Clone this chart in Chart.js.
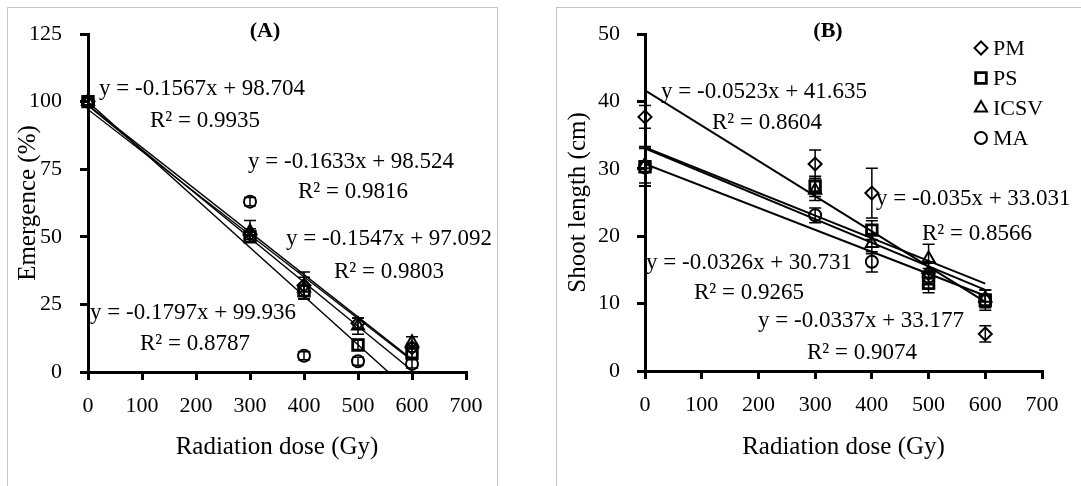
<!DOCTYPE html>
<html>
<head>
<meta charset="utf-8">
<script src="https://cdn.jsdelivr.net/npm/chart.js@4.4.1/dist/chart.umd.min.js"></script>
<style>
body{margin:0;background:#fff;}
#wrap{position:relative;width:1081px;height:486px;overflow:hidden;background:#fff;font-family:'Liberation Serif','DejaVu Serif',serif;color:#000;}
.box{position:absolute;border:1px solid #c4c4c4;}
canvas{position:absolute;top:0;}
.lb{position:absolute;white-space:nowrap;line-height:1;font-size:23px;transform:translateY(-50%);}
.ttl{position:absolute;font-weight:bold;font-size:22px;line-height:1;transform:translate(-50%,-50%);}
</style>
</head>
<body>
<div id="wrap">
  <div class="box" style="left:7px;top:7px;width:489px;height:520px"></div>
  <div class="box" style="left:556px;top:7px;width:560px;height:520px"></div>
  <canvas id="cA" width="540" height="486" style="left:0"></canvas>
  <canvas id="cB" width="541" height="486" style="left:540px"></canvas>
  <div class="ttl" style="left:265px;top:30px">(A)</div>
  <div class="ttl" style="left:828px;top:30px">(B)</div>
</div>
<script>
// ---- data ----
const doses = [0, 300, 400, 500, 600];
const cultivars = ['PM', 'PS', 'ICSV', 'MA'];

// (A) emergence %
const emPM   = [100, 51, 32, 18, 9];
const emPS   = [100, 50, 30, 10, 7];
const emICSV = [100, 52, 31, 17, 11];
const emMA   = [100, 63, 6, 4, 3];
const emErrPM   = [0, 2, 5, 2, 1.5];
const emErrPS   = [0, 2, 2, 2, 1.5];
const emErrICSV = [0, 4, 4, 3, 2];
const emErrMA   = [0, 1.5, 1.5, 1.5, 1.5];
const emSlope = [-0.1567, -0.1633, -0.1547, -0.1797];
const emIntercept = [98.704, 98.524, 97.092, 99.936];
const emR2 = [0.9935, 0.9816, 0.9803, 0.8787];

// (B) shoot length cm
const slPM   = [37.7, 30.7, 26.4, 14.5, 5.5];
const slPS   = [30.3, 27.4, 20.9, 13.0, 10.5];
const slICSV = [30.6, 26.8, 18.9, 16.7, 10.8];
const slMA   = [30.2, 23.1, 16.2, 14.0, 10.4];
const slErrPM   = [1.7, 2.1, 3.7, 1.5, 1.2];
const slErrPS   = [2.8, 1.5, 1.4, 1.4, 1.5];
const slErrICSV = [2.7, 1.5, 1.5, 2.1, 1.2];
const slErrMA   = [2.8, 1.1, 1.5, 1.2, 1.0];
const slSlope = [-0.0523, -0.035, -0.0337, -0.0326];
const slIntercept = [41.635, 33.031, 33.177, 30.731];
const slR2 = [0.8604, 0.8566, 0.9074, 0.9265];

const xTicks = [0, 100, 200, 300, 400, 500, 600, 700];

// ---- label placement (page px: eq x, eq y, r2 x, r2 y) ----
const eqPosA = [[99,87,150,119],[248,160,298,190],[286,237,334,270],[90,311,140,342]];
const eqPosB = [[661,90,712,121],[876,197,922,232],[758,319,807,351],[646,261,694,291]];

const FONT = "'Liberation Serif','DejaVu Serif',serif";
const styles = [
  {pointStyle:'rectRot', r:6.5, bw:2},
  {pointStyle:'rect', r:7.5, bw:2.8},
  {pointStyle:'triangle', r:7, bw:2},
  {pointStyle:'circle', r:6, bw:2}
];

function drawMarker(ctx, style, r, x, y){
  ctx.beginPath();
  if(style==='rectRot'){ctx.moveTo(x,y-r);ctx.lineTo(x+r,y);ctx.lineTo(x,y+r);ctx.lineTo(x-r,y);ctx.closePath();}
  else if(style==='rect'){const h=r*Math.SQRT1_2;ctx.rect(x-h,y-h,2*h,2*h);}
  else if(style==='triangle'){ctx.moveTo(x,y-r);ctx.lineTo(x+r*0.866,y+r*0.5);ctx.lineTo(x-r*0.866,y+r*0.5);ctx.closePath();}
  else {ctx.arc(x,y,r,0,Math.PI*2);}
  ctx.stroke();
}

const errorBars = {
  id:'errorBars',
  afterDatasetsDraw(chart){
    const {ctx, scales:{x, y}} = chart;
    ctx.save();
    ctx.strokeStyle = '#000';
    ctx.lineWidth = 1.5;
    chart.data.datasets.forEach(ds=>{
      if(!ds.err) return;
      ds.data.forEach((p,i)=>{
        const e = ds.err[i];
        if(!e) return;
        const px = x.getPixelForValue(p.x);
        const t = y.getPixelForValue(p.y+e), b = y.getPixelForValue(p.y-e);
        ctx.beginPath();
        ctx.moveTo(px,t);ctx.lineTo(px,b);
        ctx.moveTo(px-6,t);ctx.lineTo(px+6,t);
        ctx.moveTo(px-6,b);ctx.lineTo(px+6,b);
        ctx.stroke();
      });
    });
    ctx.restore();
  }
};

const markerLegend = {
  id:'markerLegend',
  afterDraw(chart, args, opts){
    if(!opts.show) return;
    const ctx = chart.ctx;
    ctx.save();
    ctx.font = '22px ' + FONT;
    ctx.textBaseline = 'middle';
    chart.data.datasets.filter(d=>d.err).forEach((d,i)=>{
      const yy = opts.top + i*opts.step;
      ctx.strokeStyle = '#000';
      ctx.lineWidth = d.pointBorderWidth;
      drawMarker(ctx, d.pointStyle, d.pointRadius, opts.x, yy);
      ctx.fillStyle = '#000';
      ctx.fillText(d.label, opts.x + 12, yy + 1);
    });
    ctx.restore();
  }
};

function buildChart(id, p){
  const sets = [];
  p.series.forEach((vals,i)=>{
    sets.push({
      type:'scatter', label:cultivars[i],
      data:doses.map((d,k)=>({x:d, y:vals[k]})),
      err:p.errs[i],
      pointStyle:styles[i].pointStyle, pointRadius:styles[i].r, pointBorderWidth:styles[i].bw,
      pointHoverRadius:styles[i].r,
      borderColor:'#000', pointBorderColor:'#000', pointBackgroundColor:'rgba(0,0,0,0)', backgroundColor:'rgba(0,0,0,0)',
      showLine:false, clip:false, order:0
    });
  });
  p.slope.forEach((m,i)=>{
    const b = p.intercept[i];
    sets.push({
      type:'line', label:'trend '+cultivars[i],
      data:[{x:0, y:b}, {x:600, y:b + m*600}],
      borderColor:'#000', borderWidth:p.trendWidth, pointRadius:0, fill:false, tension:0, order:1
    });
  });
  return new Chart(document.getElementById(id), {
    type:'scatter',
    data:{datasets:sets},
    options:{
      responsive:false, animation:false, devicePixelRatio:1, events:[],
      layout:{padding:{left:0, top:p.area.top, right:p.width - p.area.right, bottom:0}},
      plugins:{legend:{display:false}, tooltip:{enabled:false}, markerLegend:p.legend},
      scales:{
        x:{type:'linear', min:0, max:700,
          afterBuildTicks(s){s.ticks = xTicks.map(v=>({value:v}));},
          ticks:{color:'#000', font:{family:FONT, size:22}, padding:13, maxRotation:0},
          grid:{drawOnChartArea:false, drawTicks:true, tickLength:8, color:'#000', lineWidth:3},
          border:{display:true, color:'#000', width:3},
          title:{display:true, text:'Radiation dose (Gy)', color:'#000', font:{family:FONT, size:25}, padding:{top:0, bottom:24}},
          afterFit(s){s.height = p.height - p.area.bottom;}
        },
        y:{type:'linear', min:0, max:p.yMax,
          afterBuildTicks(s){s.ticks = p.yTicks.map(v=>({value:v}));},
          ticks:{color:'#000', font:{family:FONT, size:22}, padding:p.yPad},
          grid:{drawOnChartArea:false, drawTicks:true, tickLength:8, color:'#000', lineWidth:3},
          border:{display:true, color:'#000', width:3},
          title:{display:true, text:p.yTitle, color:'#000', font:{family:FONT, size:25}, padding:{top:p.yTitlePad, bottom:0}},
          afterFit(s){s.width = p.area.left;}
        }
      }
    },
    plugins:[errorBars, markerLegend]
  });
}

buildChart('cA', {
  width:540, height:486, area:{left:88, right:466, top:34, bottom:372},
  series:[emPM, emPS, emICSV, emMA], errs:[emErrPM, emErrPS, emErrICSV, emErrMA],
  slope:emSlope, intercept:emIntercept, trendWidth:1.4,
  yMax:125, yTicks:[0,25,50,75,100,125], yTitle:'Emergence (%)', yPad:18, yTitlePad:13,
  legend:{show:false}
});
buildChart('cB', {
  width:541, height:486, area:{left:105, right:502, top:34, bottom:371},
  series:[slPM, slPS, slICSV, slMA], errs:[slErrPM, slErrPS, slErrICSV, slErrMA],
  slope:slSlope, intercept:slIntercept, trendWidth:2,
  yMax:50, yTicks:[0,10,20,30,40,50], yTitle:'Shoot length (cm)', yPad:17, yTitlePad:23,
  legend:{show:true, x:441, top:48, step:30}
});

// equation labels
const wrap = document.getElementById('wrap');
function addLabels(slope, intercept, r2, pos){
  slope.forEach((m,i)=>{
    const [ex,ey,rx,ry] = pos[i];
    const a = document.createElement('div');
    a.className='lb'; a.style.left=ex+'px'; a.style.top=ey+'px';
    a.textContent = 'y = ' + m + 'x + ' + intercept[i];
    wrap.appendChild(a);
    const b = document.createElement('div');
    b.className='lb'; b.style.left=rx+'px'; b.style.top=ry+'px';
    b.textContent = 'R² = ' + r2[i];
    wrap.appendChild(b);
  });
}
addLabels(emSlope, emIntercept, emR2, eqPosA);
addLabels(slSlope, slIntercept, slR2, eqPosB);
</script>
</body>
</html>
